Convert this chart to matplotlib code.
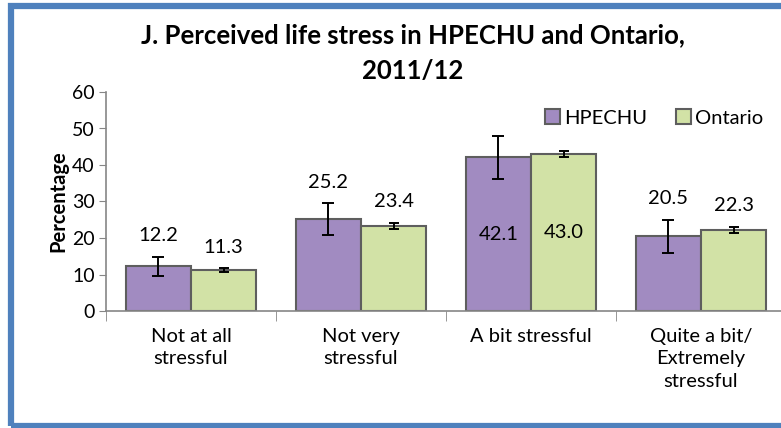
import numpy as np
import matplotlib.pyplot as plt
from matplotlib.patches import Rectangle

# Data
categories = ['Not at all\nstressful', 'Not very\nstressful', 'A bit stressful',
              'Quite a bit/\nExtremely\nstressful']
hpechu = [12.2, 25.2, 42.1, 20.5]
hpechu_err = [2.7, 4.4, 5.9, 4.5]
ontario = [11.3, 23.4, 43.0, 22.3]
ontario_err = [0.5, 0.8, 0.8, 0.8]

plt.rcParams['font.family'] = ['Lato', 'DejaVu Sans']

fig = plt.figure(figsize=(7.81, 4.28), dpi=100)
ax = fig.add_axes([106 / 781, 117 / 428, 680 / 781, 219 / 428])

x = np.arange(len(categories))
w = 0.385
purple = '#A18BC1'
green = '#D2E2A6'
edge = '#5E5E5E'

b1 = ax.bar(x - w / 2, hpechu, w, color=purple, edgecolor=edge, linewidth=1.5,
            label='HPECHU')
b2 = ax.bar(x + w / 2, ontario, w, color=green, edgecolor=edge, linewidth=1.5,
            label='Ontario')
ax.errorbar(x - w / 2, hpechu, yerr=hpechu_err, fmt='none', ecolor='black',
            elinewidth=1.4, capsize=4.3, capthick=1.4)
ax.errorbar(x + w / 2, ontario, yerr=ontario_err, fmt='none', ecolor='black',
            elinewidth=1.4, capsize=3.6, capthick=1.4)

# value labels: inside the tallest pair, above the error bar elsewhere
for xs, vals, errs in [(x - w / 2, hpechu, hpechu_err), (x + w / 2, ontario, ontario_err)]:
    for xi, v, e in zip(xs, vals, errs):
        if v > 35:
            ax.text(xi, v / 2, f'{v:.1f}', ha='center', va='center', fontsize=14.5)
        else:
            ax.annotate(f'{v:.1f}', (xi, v + e), xytext=(0, 15), textcoords='offset points',
                        ha='center', va='center', fontsize=14.5)

ax.set_xlim(-0.5, len(categories) - 0.5)
ax.set_ylim(0, 60)
ax.set_yticks(range(0, 61, 10))
ax.tick_params(axis='y', labelsize=14, length=5, color='#868686', pad=3)
ax.set_xticks(x)
ax.set_xticklabels(categories, fontsize=14.5, linespacing=1.4)
ax.tick_params(axis='x', length=0, pad=12)
ax.set_xticks(np.arange(-0.5, len(categories), 1), minor=True)
ax.tick_params(axis='x', which='minor', length=7, color='#868686')

for s in ['top', 'right']:
    ax.spines[s].set_visible(False)
for s in ['left', 'bottom']:
    ax.spines[s].set_color('#868686')
    ax.spines[s].set_linewidth(1.2)

ax.set_ylabel('Percentage', fontsize=14.5, fontweight='bold', labelpad=3)

fig.text(413 / 781, 1 - 53 / 428, 'J. Perceived life stress in HPECHU and Ontario,\n2011/12',
         ha='center', va='center', fontsize=18.5, fontweight='bold', linespacing=1.55)

fig.legend(handles=[b1, b2], loc='center', bbox_to_anchor=(654 / 781, 1 - 118 / 428),
           ncol=2, frameon=False, fontsize=14.5, handlelength=0.75, handleheight=0.75,
           handletextpad=0.2, columnspacing=1.4)

# blue frame around the chart
fig.patches.append(Rectangle((10.5 / 781, 2.5 / 428), 1.2, 420 / 428, transform=fig.transFigure,
                             fill=False, edgecolor='#4F81BD', linewidth=4.5))

fig.savefig('out.png', dpi=100)
